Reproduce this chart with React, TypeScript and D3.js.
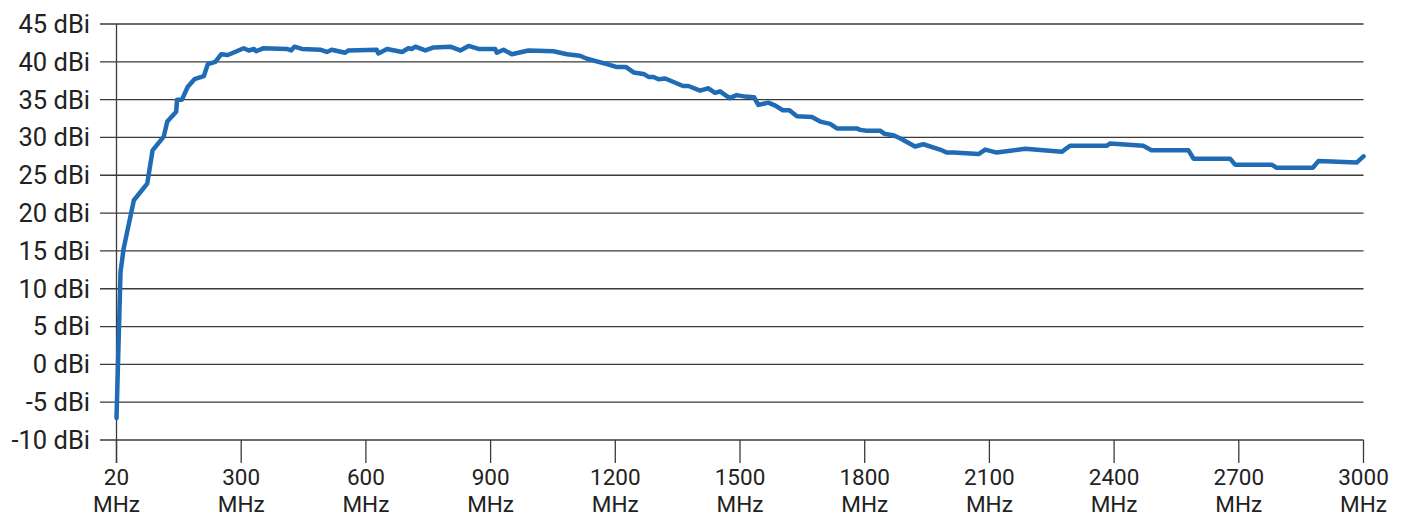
import React from "react";
import * as d3 from "d3";

const freqMHz: number[] = [
  20, 29, 36, 59, 89, 101, 126, 134, 154, 156, 167, 180, 195, 216, 225, 242, 255, 270,
  306, 318, 331, 336, 354, 410, 420, 428, 446, 490, 506, 518, 550, 558, 626, 630, 651,
  687, 702, 711, 719, 743, 763, 803, 827, 847, 871, 911, 915, 931, 951, 991, 1051, 1084,
  1115, 1132, 1180, 1204, 1226, 1244, 1268, 1280, 1292, 1304, 1320, 1363, 1376, 1404,
  1424, 1440, 1452, 1475, 1492, 1512, 1534, 1544, 1568, 1585, 1603, 1619, 1637, 1673,
  1693, 1717, 1733, 1781, 1789, 1804, 1837, 1847, 1868, 1885, 1921, 1941, 1981, 1998,
  2013, 2074, 2090, 2118, 2186, 2274, 2294, 2382, 2390, 2470, 2490, 2579, 2591, 2679,
  2691, 2779, 2791, 2878, 2892, 2984, 3000,
];
const gainDBi: number[] = [
  -7.1, 12.2, 15.3, 21.7, 23.9, 28.3, 30.1, 32.1, 33.4, 35.0, 35.0, 36.7, 37.7, 38.1, 39.7, 40.0, 41.0, 40.9,
  41.8, 41.5, 41.7, 41.4, 41.8, 41.7, 41.5, 42.0, 41.7, 41.6, 41.3, 41.6, 41.2, 41.5, 41.6, 41.1, 41.7,
  41.3, 41.8, 41.7, 42.0, 41.5, 41.9, 42.0, 41.5, 42.1, 41.7, 41.7, 41.2, 41.6, 41.0, 41.5, 41.4, 41.0,
  40.8, 40.4, 39.7, 39.3, 39.3, 38.6, 38.4, 38.0, 38.0, 37.7, 37.8, 36.8, 36.8, 36.2,
  36.5, 35.9, 36.1, 35.2, 35.6, 35.4, 35.3, 34.3, 34.6, 34.2, 33.6, 33.6, 32.8, 32.7,
  32.1, 31.8, 31.2, 31.2, 31.0, 30.9, 30.9, 30.5, 30.3, 29.9, 28.8, 29.1, 28.4, 28.0,
  28.0, 27.8, 28.4, 28.0, 28.5, 28.1, 28.9, 28.9, 29.2, 28.9, 28.3, 28.3, 27.2, 27.2,
  26.4, 26.4, 26.0, 26.0, 26.9, 26.7, 27.5,
];

const xTicks: number[] = [20, 300, 600, 900, 1200, 1500, 1800, 2100, 2400, 2700, 3000];
const yTicks: number[] = [-10, -5, 0, 5, 10, 15, 20, 25, 30, 35, 40, 45];
const yUnit = "dBi";
const xUnit = "MHz";

const W = 1405;
const H = 517;
const left = 116.5;
const right = 1363.5;
const top = 24;
const bottom = 440;
const step = (right - left) / 10;

export default function App() {
  const x = d3.scaleLinear().domain([20, 300, 3000]).range([left, left + step, right]);
  const y = d3.scaleLinear().domain([-10, 45]).range([bottom, top]);
  const data = freqMHz.map((f, i) => [f, gainDBi[i]] as [number, number]);
  const line = d3
    .line<[number, number]>()
    .x((d) => x(d[0]))
    .y((d) => y(d[1]))
    .curve(d3.curveLinear);
  const font = "Roboto, 'Open Sans', sans-serif";
  const gridColor = "#3b3b3b";
  return (
    <svg
      width={W}
      height={H}
      viewBox={`0 0 ${W} ${H}`}
      style={{ position: "absolute", left: 0, top: 0, background: "#fff" }}
    >
      {yTicks.map((t) => (
        <g key={"y" + t}>
          <line x1={100} x2={right} y1={y(t)} y2={y(t)} stroke={gridColor} strokeWidth={1.3} />
          <text
            x={90}
            y={y(t)}
            dy="0.35em"
            textAnchor="end"
            fontFamily={font}
            fontSize={25.5}
            fill="#222"
          >
            {`${t} ${yUnit}`}
          </text>
        </g>
      ))}
      <line x1={left} x2={left} y1={top} y2={463} stroke={gridColor} strokeWidth={1.3} />
      {xTicks.map((t) => (
        <g key={"x" + t}>
          <line x1={x(t)} x2={x(t)} y1={bottom} y2={463} stroke={gridColor} strokeWidth={1.3} />
          <text x={x(t)} y={485} textAnchor="middle" fontFamily={font} fontSize={22.5} fill="#222">
            {t}
          </text>
          <text x={x(t)} y={511.5} textAnchor="middle" fontFamily={font} fontSize={22.5} fill="#222">
            {xUnit}
          </text>
        </g>
      ))}
      <path
        d={line(data) || ""}
        fill="none"
        stroke="#1f6bb6"
        strokeWidth={4.5}
        strokeLinejoin="round"
        strokeLinecap="round"
      />
    </svg>
  );
}
